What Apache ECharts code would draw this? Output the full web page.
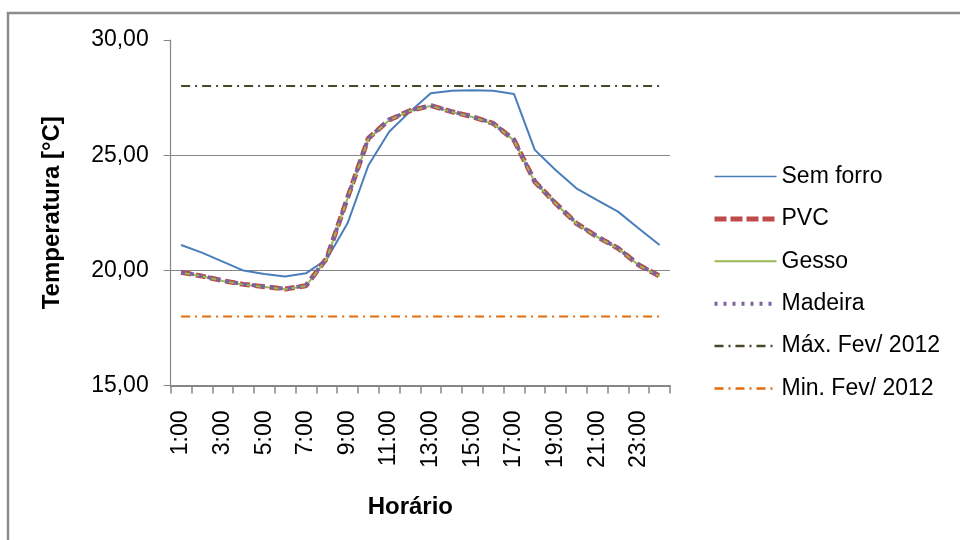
<!DOCTYPE html>
<html>
<head>
<meta charset="utf-8">
<script src="https://cdn.jsdelivr.net/npm/echarts@6/dist/echarts.min.js"></script>
<style>
  html, body { margin: 0; padding: 0; background: #fff; }
  #chart { width: 960px; height: 540px; }
</style>
</head>
<body>
<div id="chart"></div>
<script>
// Hourly categories
const horarios = ['1:00','2:00','3:00','4:00','5:00','6:00','7:00','8:00','9:00','10:00','11:00','12:00',
  '13:00','14:00','15:00','16:00','17:00','18:00','19:00','20:00','21:00','22:00','23:00','24:00'];

// Temperatures (°C)
const semForro = [21.10, 20.77, 20.38, 19.99, 19.84, 19.73, 19.87, 20.48, 22.04, 24.55, 26.02, 26.89,
  27.69, 27.80, 27.82, 27.80, 27.66, 25.23, 24.36, 23.56, 23.05, 22.55, 21.82, 21.10];
const pvc = [19.92, 19.75, 19.55, 19.39, 19.29, 19.19, 19.33, 20.52, 23.15, 25.73, 26.53, 26.93,
  27.15, 26.89, 26.67, 26.38, 25.66, 23.85, 22.91, 22.04, 21.46, 20.96, 20.23, 19.75];
const gesso = [19.90, 19.74, 19.54, 19.38, 19.28, 19.18, 19.32, 20.50, 23.12, 25.70, 26.52, 26.92,
  27.14, 26.88, 26.66, 26.37, 25.64, 23.83, 22.90, 22.03, 21.45, 20.95, 20.22, 19.74];
const madeira = [19.93, 19.76, 19.56, 19.40, 19.30, 19.20, 19.34, 20.53, 23.16, 25.74, 26.54, 26.94,
  27.16, 26.90, 26.68, 26.39, 25.67, 23.86, 22.92, 22.05, 21.47, 20.97, 20.24, 19.76];
const maxFev = Array(24).fill(28);
const minFev = Array(24).fill(18);

// Y axis range and step
const yMin = 15, yMax = 30, yStep = 5;

const FONT = '"Liberation Sans", Arial, sans-serif';

const chart = echarts.init(document.getElementById('chart'), null, { renderer: 'canvas' });

function lineSeries(name, data, color, width, type, extra) {
  return Object.assign({
    name: name,
    type: 'line',
    data: data,
    symbol: 'none',
    smooth: false,
    animation: false,
    lineStyle: { color: color, width: width, type: type },
    itemStyle: { color: color }
  }, extra || {});
}

chart.setOption({
  animation: false,
  backgroundColor: '#ffffff',
  graphic: [{
    type: 'rect',
    shape: { x: 8, y: 13, width: 1000, height: 600 },
    style: { fill: 'none', stroke: '#8c8c8c', lineWidth: 2.5 },
    silent: true,
    z: -10
  }],
  grid: { left: 170.7, right: 290, top: 40, bottom: 154.5, containLabel: false },
  legend: {
    orient: 'vertical',
    left: 707,
    top: 160,
    itemWidth: 62,
    itemHeight: 22,
    itemGap: 19.4,
    itemStyle: { opacity: 0 },
    textStyle: { fontFamily: FONT, fontSize: 23, color: '#000', lineHeight: 22 },
    data: [
      { name: 'Sem forro', lineStyle: { width: 1.5 } },
      { name: 'PVC', lineStyle: { width: 5, type: [12, 4] } },
      { name: 'Gesso', lineStyle: { width: 2 } },
      { name: 'Madeira', lineStyle: { width: 4, type: [3, 6] } },
      { name: 'Máx. Fev/ 2012', lineStyle: { width: 2.5 } },
      { name: 'Min. Fev/ 2012', lineStyle: { width: 2.5 } }
    ]
  },
  xAxis: {
    type: 'category',
    data: horarios,
    boundaryGap: true,
    name: 'Horário',
    nameLocation: 'middle',
    nameGap: 110,
    nameTextStyle: { fontFamily: FONT, fontSize: 24, fontWeight: 'bold', color: '#000', padding: [0, 20, 0, 0] },
    axisLine: { lineStyle: { color: '#868686', width: 2 } },
    axisTick: { show: true, interval: 0, length: 8, inside: false, lineStyle: { color: '#868686', width: 1.5 } },
    axisLabel: {
      interval: 1,
      rotate: 90,
      margin: 25,
      fontFamily: FONT,
      fontSize: 23,
      color: '#000'
    },
    splitLine: { show: false }
  },
  yAxis: {
    type: 'value',
    min: yMin,
    max: yMax,
    interval: yStep,
    name: 'Temperatura [°C]',
    nameLocation: 'middle',
    nameGap: 106,
    nameTextStyle: { fontFamily: FONT, fontSize: 24, fontWeight: 'bold', color: '#000' },
    axisLine: { show: true, lineStyle: { color: '#868686', width: 1.2 } },
    axisTick: { show: true, length: 7, lineStyle: { color: '#868686', width: 1 } },
    axisLabel: {
      margin: 22,
      fontFamily: FONT,
      fontSize: 23,
      color: '#000',
      formatter: v => v.toFixed(2).replace('.', ',')
    },
    splitLine: { show: true, showMaxLine: false, showMinLine: false, lineStyle: { color: '#868686', width: 1.2 } }
  },
  series: [
    lineSeries('Sem forro', semForro, '#4A7EBB', 2, 'solid', { z: 3 }),
    lineSeries('PVC', pvc, '#BE4B48', 5, [10, 5], { z: 4 }),
    lineSeries('Gesso', gesso, '#98B954', 2, 'solid', { z: 5 }),
    lineSeries('Madeira', madeira, '#7D60A0', 4, [4, 5], { z: 6 }),
    lineSeries('Máx. Fev/ 2012', maxFev, '#4A4729', 2, [9, 5, 2, 5], { z: 2 }),
    lineSeries('Min. Fev/ 2012', minFev, '#E46C0A', 2, [9, 5, 2, 5], { z: 2 })
  ]
});
</script>
</body>
</html>
